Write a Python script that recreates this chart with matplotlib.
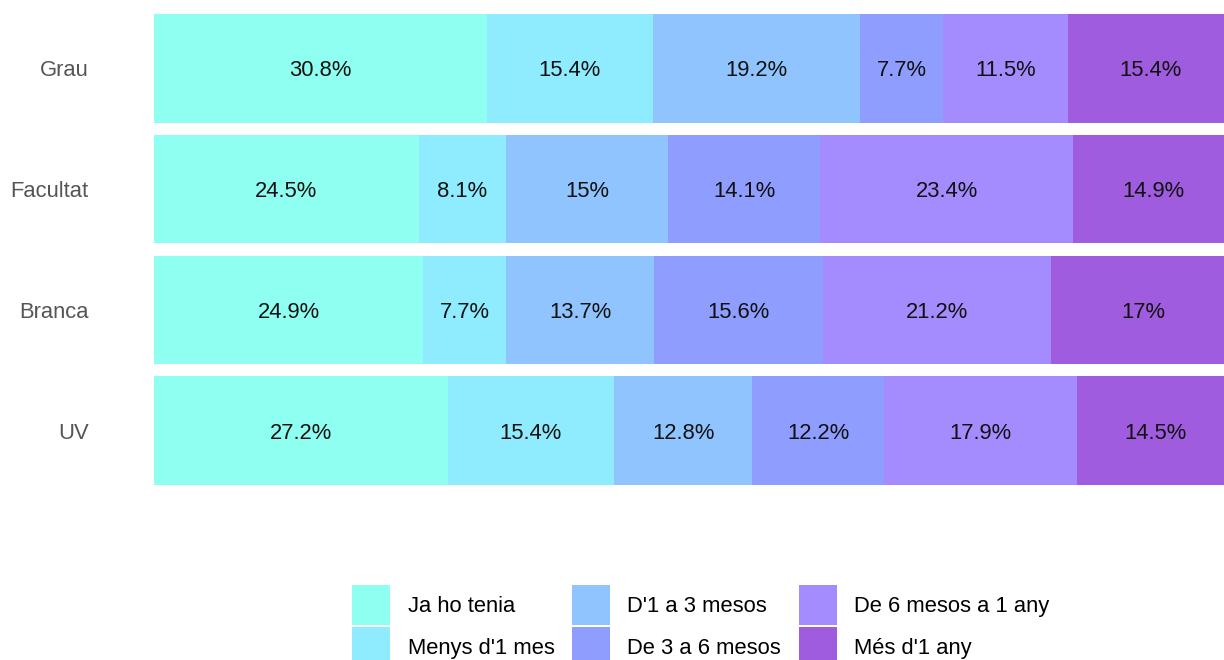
import numpy as np
import matplotlib
matplotlib.use('Agg')
import matplotlib.pyplot as plt
from matplotlib.patches import Patch

plt.rcParams['font.family'] = ['Liberation Sans', 'DejaVu Sans']

# Dades
categories = ['Grau', 'Facultat', 'Branca', 'UV']
series = ['Ja ho tenia', "Menys d'1 mes", "D'1 a 3 mesos",
          'De 3 a 6 mesos', 'De 6 mesos a 1 any', "Més d'1 any"]
grau = [30.8, 15.4, 19.2, 7.7, 11.5, 15.4]
facultat = [24.5, 8.1, 15, 14.1, 23.4, 14.9]
branca = [24.9, 7.7, 13.7, 15.6, 21.2, 17]
uv = [27.2, 15.4, 12.8, 12.2, 17.9, 14.5]
colors = ['#8ffff2', '#8fecff', '#8fc4ff', '#8f9dff', '#a48cff', '#a05cdf']

values = np.array([grau, facultat, branca, uv])
fs = 15.8

fig = plt.figure(figsize=(12.24, 6.6), dpi=100)
# l'eix s'allarga una mica per la dreta (les barres queden retallades)
ax = fig.add_axes([154 / 1224, 1 - 485 / 660, 1080 / 1224, (485 - 14) / 660])

ypos = np.arange(len(categories))[::-1]
left = np.zeros(len(categories))
for j, name in enumerate(series):
    ax.barh(ypos, values[:, j], left=left, height=0.9, color=colors[j], linewidth=0)
    for i in range(len(categories)):
        v = values[i, j]
        ax.text(left[i] + v / 2, ypos[i], f'{v:g}%', ha='center', va='center_baseline',
                fontsize=fs, color='#111111')
    left += values[:, j]

ax.set_xlim(0, 100)
ax.set_ylim(-0.45, 3.45)
ax.set_yticks(ypos)
ax.set_yticklabels(categories, fontsize=fs, color='#555555')
ax.tick_params(axis='y', length=0, pad=47)
ax.set_xticks([])
for s in ax.spines.values():
    s.set_visible(False)

handles = [Patch(facecolor=c, edgecolor='none') for c in colors]
fig.legend(handles, series, loc='upper left',
           bbox_to_anchor=(352 / 1224, 1 - 585 / 660), ncol=3, frameon=False,
           fontsize=fs, handlelength=1.73, handleheight=2.42, handletextpad=0.8,
           labelspacing=0.1, columnspacing=0.8, borderpad=0, borderaxespad=0)

fig.savefig('out.png', dpi=100)
